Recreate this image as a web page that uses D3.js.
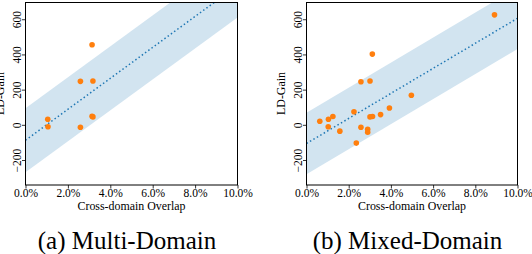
<!DOCTYPE html>
<html><head><meta charset="utf-8">
<script src="https://cdn.jsdelivr.net/npm/d3@7"></script>
<style>body{margin:0;background:#fff}svg{display:block}</style>
</head><body>
<svg id="c" width="532" height="254"></svg>
<script>
// ---- data ----
const multiX = [0.0314, 0.0259, 0.0318, 0.0105, 0.0106, 0.0259, 0.0314, 0.0318];
const multiY = [455, 247, 249, 32, -11, -14, 49, 45];
const mixedX = [0.0891, 0.0312, 0.0258, 0.0301, 0.0497, 0.0393, 0.0351, 0.0301, 0.0313, 0.0225, 0.0063, 0.0104, 0.0125, 0.0103, 0.0158, 0.0258, 0.0290, 0.0290, 0.0236];
const mixedY = [625, 402, 245, 249, 168, 96, 58, 45, 47, 74, 20, 32, 47, -11, -36, -14, -25, -42, -104];
const bandHalf = [182, 175];
const xTicks = [0, 0.02, 0.04, 0.06, 0.08, 0.10];
const yTicks = [-200, 0, 200, 400, 600];
const captions = ["(a) Multi-Domain", "(b) Mixed-Domain"];
const xLabel = "Cross-domain Overlap";
const yLabel = "LD-Gain";
const yDomain = [-342, 698];
const xDomain = [0, 0.1];

const svg = d3.select("#c");
const FONT = '"Liberation Serif"';

function fit(xs, ys) {
  const mx = d3.mean(xs), my = d3.mean(ys);
  let sxy = 0, sxx = 0;
  xs.forEach((x, i) => { sxy += (x - mx) * (ys[i] - my); sxx += (x - mx) * (x - mx); });
  const b = sxy / sxx;
  return { b, a: my - b * mx };
}

function panel(idx, left, right, xs, ys) {
  const top = 2, bottom = 185;
  const x = d3.scaleLinear().domain(xDomain).range([left, right]);
  const y = d3.scaleLinear().domain(yDomain).range([bottom, top]);
  const g = svg.append("g");
  const cid = "clip" + idx;
  g.append("clipPath").attr("id", cid).append("rect")
    .attr("x", left).attr("y", top).attr("width", right - left).attr("height", bottom - top);
  const { a, b } = fit(xs, ys);
  const h = bandHalf[idx];
  const pts = xDomain;
  const area = d3.area().x(d => x(d)).y0(d => y(a + b * d - h)).y1(d => y(a + b * d + h));
  const plot = g.append("g").attr("clip-path", `url(#${cid})`);
  plot.append("path").datum(pts).attr("d", area)
    .attr("fill", "#1f77b4").attr("fill-opacity", 0.2);
  plot.append("path").datum(pts)
    .attr("d", d3.line().x(d => x(d)).y(d => y(a + b * d)))
    .attr("fill", "none").attr("stroke", "#1f77b4").attr("stroke-width", 1.5)
    .attr("stroke-dasharray", "1.5,2.5");
  plot.selectAll("circle").data(xs).join("circle")
    .attr("cx", d => x(d)).attr("cy", (d, i) => y(ys[i])).attr("r", 2.8)
    .attr("fill", "#ff7f0e");

  // axes
  const xa = g.append("g").attr("transform", `translate(0,${bottom})`)
    .call(d3.axisBottom(x).tickValues(xTicks).tickFormat(d3.format(".1%")).tickSize(3.5).tickPadding(0));
  xa.select(".domain").remove();
  xa.selectAll("text").style("font-family", FONT).attr("font-size", 11.5).attr("fill", "#000");
  xa.selectAll("line").attr("stroke", "#000").attr("stroke-width", 0.8);

  const ya = g.append("g").attr("transform", `translate(${left},0)`)
    .call(d3.axisLeft(y).tickValues(yTicks).tickFormat(d => d < 0 ? "\u2212" + Math.abs(d) : d).tickSize(3.5));
  ya.select(".domain").remove();
  ya.selectAll("line").attr("stroke", "#000").attr("stroke-width", 0.8);
  ya.selectAll("text")
    .style("font-family", FONT).attr("font-size", 11.5).attr("fill", "#000")
    .attr("x", null).attr("dy", null)
    .attr("text-anchor", "middle")
    .attr("transform", "translate(-4.5,0) rotate(-90)");

  g.append("rect").attr("x", left).attr("y", top + 0.5).attr("width", right - left).attr("height", bottom - top - 0.5)
    .attr("fill", "none").attr("stroke", "#000").attr("stroke-width", 1);

  const cx = (left + right) / 2;
  g.append("text").attr("x", cx).attr("y", 210).attr("text-anchor", "middle")
    .style("font-family", FONT).attr("font-size", 11.9).text(xLabel);
  g.append("text").attr("transform", `translate(${left - 21.5},${(top + bottom) / 2}) rotate(-90)`)
    .attr("text-anchor", "middle").style("font-family", FONT).attr("font-size", 11.9).text(yLabel);
  g.append("text").attr("x", cx - 4.5).attr("y", 249).attr("text-anchor", "middle")
    .style("font-family", FONT).attr("font-size", 25).text(captions[idx]);
}

panel(0, 25.5, 237.5, multiX, multiY);
panel(1, 306.5, 517.5, mixedX, mixedY);
</script>
</body></html>
